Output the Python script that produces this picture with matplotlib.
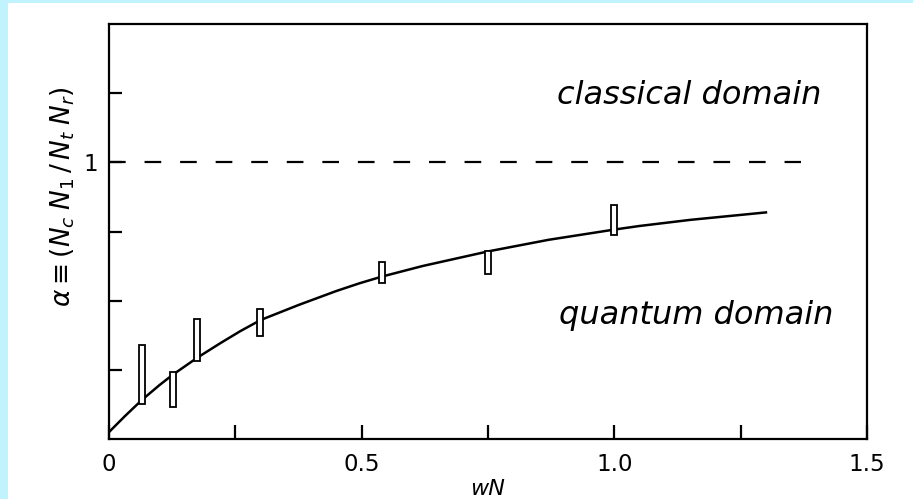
import matplotlib
matplotlib.use("Agg")
import matplotlib.pyplot as plt
from matplotlib.patches import Rectangle

# ---- data ----
curve_x = [0.0, 0.03, 0.065, 0.10, 0.126, 0.174, 0.22, 0.26, 0.30, 0.376, 0.45, 0.496,
           0.54, 0.62, 0.75, 0.87, 1.0, 1.05, 1.15, 1.3]
curve_y = [0.025, 0.08, 0.141, 0.195, 0.232, 0.293, 0.346, 0.39, 0.43, 0.485, 0.535, 0.563,
           0.587, 0.625, 0.678, 0.72, 0.757, 0.77, 0.792, 0.819]

box_x = [0.065, 0.126, 0.174, 0.299, 0.54, 0.75, 0.999]
box_low = [0.127, 0.116, 0.283, 0.373, 0.565, 0.598, 0.739]
box_high = [0.340, 0.243, 0.435, 0.471, 0.641, 0.678, 0.844]

classical_level = 1.0
dash_x = [0.0, 1.37]

x_ticks = [0.0, 0.5, 1.0, 1.5]
x_ticklabels = ["0", "0.5", "1.0", "1.5"]
x_minor = [0.25, 0.75, 1.25]
y_ticks = [0.25, 0.5, 0.75, 1.0, 1.25]
y_ticklabels = ["", "", "", "1", ""]

# ---- figure ----
W, H = 913, 499
fig = plt.figure(figsize=(W / 100, H / 100), dpi=100)
fig.patch.set_facecolor("#c0f3fe")
bg = Rectangle((8 / W, 0), 1, (H - 3) / H, transform=fig.transFigure,
               facecolor="white", edgecolor="none", zorder=-10)
fig.patches.append(bg)

L, R, T, B = 109, 867, 24, 439
ax = fig.add_axes([L / W, (H - B) / H, (R - L) / W, (B - T) / H])
ax.set_facecolor("white")
ax.set_xlim(0, 1.5)
ax.set_ylim(0, 1.5)

for s in ax.spines.values():
    s.set_linewidth(1.6)

ax.plot(curve_x, curve_y, color="black", lw=1.8, zorder=3)
ax.plot(dash_x, [classical_level, classical_level], color="black", lw=1.6,
        dashes=(7.5, 8.5), dash_capstyle="butt", zorder=3)

ax.bar(box_x, [h - l for h, l in zip(box_high, box_low)], bottom=box_low, width=0.012,
       facecolor="white", edgecolor="black", linewidth=1.3, zorder=4)

ax.set_xticks(x_ticks)
ax.set_xticklabels(x_ticklabels)
ax.set_xticks(x_minor, minor=True)
ax.set_yticks(y_ticks)
ax.set_yticklabels(y_ticklabels)
ax.tick_params(axis="x", which="both", direction="in", length=10, width=1.6,
               labelsize=16.5, pad=10)
ax.tick_params(axis="y", which="both", direction="in", length=9, width=1.6,
               labelsize=16.5, pad=8)

ax.set_xlabel("wN", fontstyle="italic", fontsize=16, labelpad=2)
ax.set_ylabel(r"$\alpha \equiv (N_c\;N_1\,/\,N_t\;N_r)$", fontsize=19, va="center")
ax.yaxis.set_label_coords(-0.0607, (B - 197) / (B - T))

ax.text(1.409, 1.243, "classical domain", fontstyle="italic", fontsize=23,
        ha="right", va="center")
ax.text(1.433, 0.448, "quantum domain", fontstyle="italic", fontsize=23,
        ha="right", va="center")

fig.savefig("out.png", dpi=100, facecolor=fig.get_facecolor())
